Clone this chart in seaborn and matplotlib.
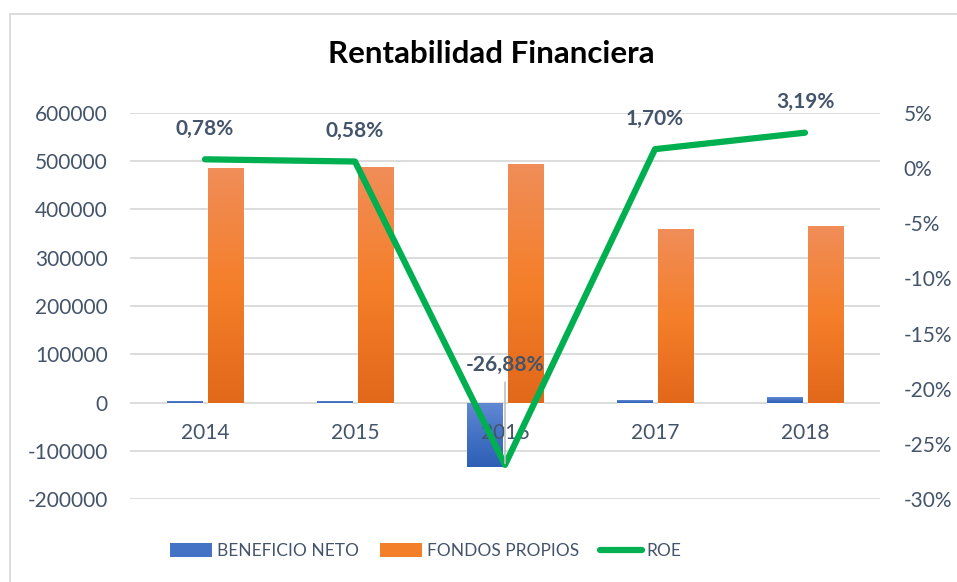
import numpy as np
import pandas as pd
import matplotlib
matplotlib.use("Agg")
import matplotlib.pyplot as plt
import seaborn as sns
from matplotlib.patches import Rectangle, Patch
from matplotlib.lines import Line2D
from matplotlib.colors import to_rgb

# ---------------- data ----------------
years = ["2014", "2015", "2016", "2017", "2018"]
beneficio_neto = [3800, 2830, -132250, 6120, 11680]
fondos_propios = [485500, 487600, 493800, 359500, 365700]
roe = [0.78, 0.58, -26.88, 1.70, 3.19]
roe_labels = ["0,78%", "0,58%", "-26,88%", "1,70%", "3,19%"]
left_ticks = [-200000, -100000, 0, 100000, 200000, 300000, 400000, 500000, 600000]
right_ticks = [-30, -25, -20, -15, -10, -5, 0, 5]
series_names = ["BENEFICIO NETO", "FONDOS PROPIOS", "ROE"]
title = "Rentabilidad Financiera"

# ---------------- style ----------------
sns.set_theme(style="white")
plt.rcParams['font.family'] = ['Lato', 'DejaVu Sans']
plt.rcParams['axes.unicode_minus'] = False

W, H = 957, 582
text_color = "#44546A"
grid_color = "#D9D9D9"
blue_mid = "#4472C4"
orange_mid = "#F47F2A"
green = "#00B050"
blue_grad = ["#6188D3", "#4472C4", "#2E5FB6"]
orange_grad = ["#F08D58", "#F57F2A", "#E2681A"]

fig = plt.figure(figsize=(W / 100, H / 100), dpi=100)
ax = fig.add_axes([130 / W, 1 - 499.3 / H, 750 / W, (499.3 - 112.7) / H])

df = pd.DataFrame({
    "Año": years * 2,
    "Valor": beneficio_neto + fondos_propios,
    "Serie": [series_names[0]] * len(years) + [series_names[1]] * len(years),
})
sns.barplot(data=df, x="Año", y="Valor", hue="Serie", palette=[blue_mid, orange_mid],
            width=0.547, gap=0.134, saturation=1, ax=ax, legend=False, zorder=2)

ax.set_ylim(left_ticks[0], left_ticks[-1])
ax.set_xlim(-0.5, len(years) - 0.5)


def grad_img(cols, n=64):
    c = np.array([to_rgb(x) for x in cols])
    t = np.linspace(0, 1, n)
    pos = np.linspace(0, 1, len(c))
    arr = np.stack([np.interp(t, pos, c[:, k]) for k in range(3)], axis=1)
    return arr[:, None, :]


n_b = len(years)
for i, p in enumerate(list(ax.patches)):
    x0, w = p.get_x(), p.get_width()
    y0, h = p.get_y(), p.get_height()
    if w == 0 or h == 0:
        continue
    cols = blue_grad if i < n_b else orange_grad
    ylo, yhi = min(y0, y0 + h), max(y0, y0 + h)
    im = ax.imshow(grad_img(cols), extent=[x0, x0 + w, ylo, yhi], origin="upper",
                   aspect="auto", zorder=2.5, interpolation="bilinear")
    im.set_clip_path(p)

ax.set_ylim(left_ticks[0], left_ticks[-1])
ax.set_xlim(-0.5, len(years) - 0.5)
ax.set_yticks(left_ticks)
ax.set_yticklabels([str(v) for v in left_ticks])
ax.yaxis.grid(True, color=grid_color, lw=1.3, zorder=0)
ax.set_axisbelow(True)
ax.xaxis.set_zorder(5)
for s in ax.spines.values():
    s.set_visible(False)
ax.spines['bottom'].set_position(('data', 0))
ax.tick_params(axis='y', length=0, pad=16, labelsize=15, labelcolor=text_color)
ax.tick_params(axis='x', length=0, pad=15, labelsize=15, labelcolor=text_color)
ax.set_xlabel("")
ax.set_ylabel("")

# ---------------- ROE line ----------------
ax2 = ax.twinx()
sns.lineplot(x=np.arange(len(years)), y=roe, ax=ax2, color=green, lw=4.5,
             solid_capstyle="round", zorder=3)
ax2.set_ylim(right_ticks[0], right_ticks[-1])
ax2.set_xlim(-0.5, len(years) - 0.5)
ax2.set_yticks(right_ticks)
ax2.set_yticklabels([f"{v}%" for v in right_ticks])
ax2.grid(False)
for s in ax2.spines.values():
    s.set_visible(False)
ax2.tick_params(axis='y', length=0, pad=17, labelsize=15, labelcolor=text_color)
ax2.set_ylabel("")

for i, (v, lab) in enumerate(zip(roe, roe_labels)):
    if v < 0:
        ax2.annotate(lab, xy=(i, v), xytext=(0, 72), textcoords="offset points",
                     ha="center", va="center", fontsize=15, fontweight="bold",
                     color=text_color, zorder=4,
                     arrowprops=dict(arrowstyle="-", color="#BFBFBF", lw=1.2,
                                     shrinkA=3, shrinkB=1))
    else:
        ax2.annotate(lab, xy=(i, v), xytext=(0, 22), textcoords="offset points",
                     ha="center", va="center", fontsize=15, fontweight="bold",
                     color=text_color, zorder=4)

# ---------------- title / legend / frame ----------------
fig.text(491 / W, 1 - 54 / H, title, ha="center", va="center", fontsize=22.5,
         fontweight="bold", color="black")

handles = [Patch(facecolor=blue_mid, edgecolor="none"),
           Patch(facecolor=orange_mid, edgecolor="none"),
           Line2D([0], [0], color=green, lw=4.5, solid_capstyle="round")]
fig.legend(handles, series_names, loc="center", bbox_to_anchor=(426 / W, 1 - 551 / H),
           ncol=3, frameon=False, fontsize=12.5, handlelength=2.4, handleheight=0.85,
           handletextpad=0.3, columnspacing=1.2, labelcolor=text_color)

fig.add_artist(Rectangle((10 / W, -0.1), 1.2, (H - 14) / H + 0.1, transform=fig.transFigure,
                         fill=False, edgecolor=grid_color, lw=1.3))

fig.savefig("out.png", dpi=100)
